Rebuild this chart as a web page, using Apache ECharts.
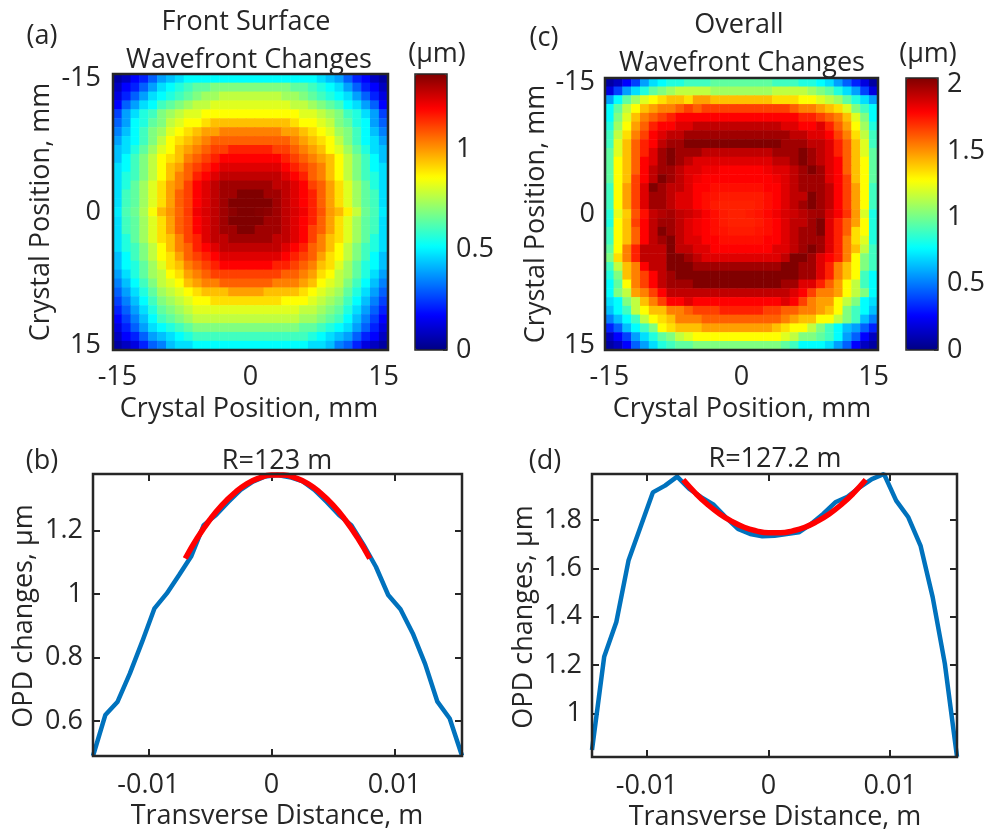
<!DOCTYPE html>
<html>
<head>
<meta charset="utf-8">
<script src="https://cdn.jsdelivr.net/npm/echarts@6/dist/echarts.min.js"></script>
<style>html,body{margin:0;padding:0;background:#fff}#c{width:989px;height:833px}</style>
</head>
<body>
<div id="c"></div>
<script>
// ---------- data ----------
const positionCats = ['-15','-14','-13','-12','-11','-10','-9','-8','-7','-6','-5','-4','-3','-2','-1','0','1','2','3','4','5','6','7','8','9','10','11','12','13','14','15'];
// colorbar ranges (µm)
const cbMaxA = 1.373;
const cbMaxC = 2.05;
// heatmap cells, in 1/16ths of the colorbar range (row 0 = top, -15 mm)
const levelsA = [
[0.5,1,2,2.5,3.5,4.5,5,5.5,6,6,6,6,6,6,6,6,6,6,6,6,6,6,6,5.5,5,4.5,3.5,2.5,2,1,0.5],
[1,2,2.5,3.5,4.5,5.5,6,6.5,7,7.5,7.5,8,8,8,8,8,8,8,8,8,7.5,7.5,7,6.5,6,5.5,4.5,3.5,2.5,2,1],
[1.5,2.5,3.5,4.5,5.5,6,6.5,7,7.5,8,8.5,8.5,9,9,9,9,9,9,9,8.5,8.5,8,7.5,7,6.5,6,5.5,4.5,3.5,2.5,1.5],
[2,3.5,4.5,5.5,6,7,7.5,8,8.5,9,9,9.5,9.5,9.5,9.5,9.5,9.5,9.5,9.5,9.5,9,9,8.5,8,7.5,7,6,5.5,4.5,3.5,2],
[3,4.5,5.5,6.5,7,8,8.5,9,9.5,9.5,10,10,10,10,10,10,10,10,10,10,10,9.5,9.5,9,8.5,8,7,6.5,5.5,4.5,3],
[3.5,4.5,6,6.5,7.5,8,9,9.5,10,10,10.5,11,11,11,11,11,11,11,11,11,10.5,10,10,9.5,9,8,7.5,6.5,6,4.5,3.5],
[4,5,6,7,8,8.5,9.5,10,10.5,11,11.5,11.5,12,12,12,12,12,12,12,11.5,11.5,11,10.5,10,9.5,8.5,8,7,6,5,4],
[4.5,5.5,6,7,8,9,10,10.5,11,11.5,12,12.5,12.5,12.5,12.5,12.5,12.5,12.5,12.5,12.5,12,11.5,11,10.5,10,9,8,7,6,5.5,4.5],
[5,5.5,6.5,7.5,8.5,9.5,10,11,11.5,12,12.5,13,13,13.5,13.5,13.5,13.5,13.5,13,13,12.5,12,11.5,11,10,9.5,8.5,7.5,6.5,5.5,5],
[5,6,7,8,9,10,10.5,11,12,12.5,13,13.5,14,14,14,14,14,14,14,13.5,13,12.5,12,11.5,11,10,9,8,7,6,5],
[5.5,6,7,8,9,10,11,11.5,12.5,13,13.5,14,14.5,14.5,14.5,14.5,14.5,14.5,14.5,14,13.5,13,12.5,12,11,10,9,8,7,6,5.5],
[5.5,6.5,7,8,9,10,11,12,12.5,13.5,14,14.5,15,15,15,15,15,15,15,14.5,14,13.5,12.5,12,11,10,9,8,7,6.5,5.5],
[5.5,6.5,7.5,8.5,9.5,10.5,11.5,12,13,14,14.5,15,15.5,15.5,15.5,15.5,15.5,15.5,15,15,14.5,14,13,12.5,11.5,10.5,9.5,8.5,7.5,6.5,5.5],
[5.5,7,7.5,8.5,9.5,10.5,11.5,12.5,13,14,14.5,15,15.5,15.5,16,16,16,15.5,15.5,15,14.5,14,13.5,12.5,11.5,10.5,9.5,8.5,7.5,7,5.5],
[5.5,7,7.5,8.5,9.5,10.5,11.5,12.5,13,14,14.5,15,15.5,16,16,16,16,16,15.5,15,14.5,14,13.5,12.5,11.5,10.5,9.5,8.5,7.5,7,5.5],
[5.7,7.2,7.7,8.7,9.9,11.1,11.7,12.4,13.1,14.2,14.6,15.0,15.5,15.8,16,16,15.9,15.8,15.5,15.0,14.6,14.2,13.5,12.7,11.6,11.1,10.2,9.1,7.7,7.1,5.7],
[5.5,7,7.5,8.5,9.5,10.5,11.5,12.5,13,14,14.5,15,15.5,16,16,16,16,15.5,15.5,15,14.5,14,13.5,12.5,11.5,10.5,9.5,8.5,7.5,7,5.5],
[5.5,7,7.5,8.5,9.5,10.5,11.5,12.5,13,14,14.5,15,15.5,15.5,16,16,15.5,15.5,15.5,15,14.5,14,13,12.5,11.5,10.5,9.5,8.5,7.5,7,5.5],
[5.5,6.5,7.5,8.5,9.5,10.5,11,12,13,13.5,14.5,15,15,15.5,15.5,15.5,15.5,15.5,15,15,14.5,14,13,12,11,10.5,9.5,8.5,7.5,6.5,5.5],
[5.5,6.5,7,8,9,10,11,12,12.5,13.5,14,14.5,15,15,15,15,15,15,15,14.5,14,13.5,12.5,12,11,10,9,8,7,6.5,5.5],
[5,6,7,8,9,10,10.5,11.5,12.5,13,13.5,14,14.5,14.5,14.5,14.5,14.5,14.5,14.5,14,13.5,13,12.5,11.5,10.5,10,9,8,7,6,5],
[5,6,6.5,7.5,8.5,9.5,10.5,11,12,12.5,13,13.5,14,14,14,14,14,14,13.5,13.5,13,12.5,12,11,10.5,9.5,8.5,7.5,6.5,6,5],
[4.5,5.5,6.5,7.5,8.5,9,10,10.5,11.5,12,12.5,13,13,13,13,13,13,13,13,12.5,12.5,12,11.5,10.5,10,9,8.5,7.5,6.5,5.5,4.5],
[4,5,6,7,8,9,9.5,10,11,11.5,12,12,12.5,12.5,12.5,12.5,12.5,12.5,12,12,12,11.5,11,10,9.5,9,8,7,6,5,4],
[3.5,4.5,5.5,6.5,7.5,8.5,9,9.5,10,10.5,11,11,11,11.5,11.5,11.5,11.5,11,11,11,11,10.5,10,9.5,9,8.5,7.5,6.5,5.5,4.5,3.5],
[3,4,5,6,7,8,8.5,9,9.5,10,10,10.5,10.5,10.5,10.5,10.5,10.5,10.5,10.5,10,10,10,9.5,9,8.5,8,7,6,5,4,3],
[2.5,3.5,4.5,5.5,6.5,7.5,8,8.5,9,9.5,9.5,9.5,9.5,9.5,9.5,9.5,9.5,9.5,9.5,9.5,9.5,9,9,8.5,8,7.5,6.5,5.5,4.5,3.5,2.5],
[2,3,4,5,6,7,7.5,8,8.5,9,9,9,9,9,9,9,9,9,9,9,9,8.5,8.5,8,7.5,7,6,5,4,3,2],
[1.5,2.5,3.5,4.5,5.5,6,6.5,7,7.5,8,8,8,8,8,8,8,8,8,8,8,8,7.5,7.5,7,6.5,6,5.5,4.5,3.5,2.5,1.5],
[1,2,2.5,3.5,4.5,5,5.5,6,6.5,7,7,7,7,7,7,7,7,7,7,7,7,7,6.5,6,5.5,5,4.5,3.5,2.5,2,1],
[0.5,1,1.5,2.5,3.5,4,5,5.5,5.5,6,6,6,6,6,6,6,6,6,6,6,6,6,5.5,5.5,5,4,3.5,2.5,1.5,1,0.5]
];
const levelsC = [
[0.5,1,2,3,4.5,5.5,6,6.5,6.5,7,7,7,7.5,7.5,7.5,7.5,7.5,7.5,7.5,7,7,7,6.5,6.5,6,5.5,4.5,3.5,2.5,1.5,0.5],
[1.5,3,4.5,5.5,6.5,7.5,8,8.5,9,9,9,9,8.5,8.5,8.5,8.5,8.5,8.5,8.5,9,9,9,9,8.5,8,7.5,6.5,5.5,4.5,3,1.5],
[4.5,6,7.5,8.5,9.5,10,10.5,11,11,10.5,11.5,11.5,11,11,11,11,11,11,11,10.5,10.5,10.5,10,10,9.5,9,8.5,7.5,6.5,5.5,4.5],
[6,7.5,9,10,11,11.5,12,12,12.5,13,12.5,13,13,13,13,13,13,13,13,13,13,12.5,12,12,11.5,11,10.5,9.5,8,7,6],
[6,8,9.5,11,12,12.5,13,13.5,14,14,14,14,14,14,14,14,14,14,14,14,14,14,13.5,13.5,13,12.5,12,11,9.5,8,6],
[6.5,8.5,10,11.5,12.5,13.5,14,14,14.5,14.5,15,15,15,15,15,15,15,15,15,15,14.5,14.5,14,14,14.5,13.5,12.5,11.5,10,8.5,6.5],
[7,9,10.5,12,13,14,14.5,15,15,15.5,15.5,15.5,15.5,15.5,15.5,15.5,15.5,15.5,15.5,15.5,15.5,15,15,14.5,14.5,14,13,12,10.5,9,7],
[7,9.5,11,12.5,13.5,14,15,15.5,15.5,16,16,16,16,16,16,16,16,16,16,16,15.5,15.5,15.5,15,15,14.5,13.5,12.5,11,9.5,7],
[7.5,9.5,11,12.5,13.5,14.5,15.5,16,15.5,15.5,15.5,15,15,15,15,15,15,15,15,15.5,15.5,15.5,16,15.5,15,14.5,13.5,12.5,11,9.5,7.5],
[7.5,10,11,12.5,14,14.5,15.5,16,15.5,15,14.5,14.5,14.5,14.5,14.5,14.5,14.5,14.5,14.5,15,15,15.5,16,15.5,15,14.5,14,12.5,11,10,7.5],
[7.5,10,11,12.5,14,15,15.5,15.5,15,14.5,14.5,14.2,14.2,14,14,14,14,14,14.2,14.5,14.5,15,15.5,16,15.5,14.5,14,12.5,11,10,7.5],
[7.5,10,11,13,14,15,16,15.5,15,14.5,14.2,14,14,14,14,14,14,14,14,14.2,14.5,15,15.5,15.5,15.5,14.5,14,13,11,10,7.5],
[7,10,11.5,13,14.5,16,15.5,15,15,14.5,14,14,13.8,13.8,13.8,13.8,13.8,13.8,14,14,14.5,15,15.5,15.5,15.5,15,14,13,11.5,10,7],
[7,10,11.5,13,14.5,15.5,15.5,15,14.5,14.5,14,13.8,13.7,13.6,13.6,13.6,13.6,13.6,13.8,14,14.5,15,15,16,15.5,15,14,13,11.5,10,7],
[7,10,11.5,13,14.5,15.5,15.5,15,14.5,14.5,14,13.8,13.6,13.5,13.5,13.5,13.5,13.6,13.8,14,14.5,15,15.5,16,15.5,15,14,13,11.5,10,7],
[6.6,9.6,10.8,12.7,13.8,14.9,15.2,15.4,15.0,14.8,14.5,14.1,13.8,13.6,13.5,13.5,13.6,13.7,13.9,14.2,14.6,14.8,15.1,15.4,15.5,14.7,14.1,13.2,11.6,9.4,6.4],
[6.5,10,11,13,14,15,15.5,15.5,15,14.5,14.2,14,13.8,13.6,13.5,13.5,13.5,13.6,13.8,14,14.5,15,15,15.5,16,14.5,13.5,12.5,11.5,10,6.5],
[7,10,11,12.5,14,15,16,15.5,15,14.5,14.2,14,13.8,13.7,13.6,13.6,13.6,13.7,13.8,14,14.5,15,15.5,15.5,16,14.5,13.5,12.5,10.5,10,6.5],
[7,10,11,12.5,14,15,15.5,16,15,14.5,14.5,14,14,13.8,13.8,13.8,13.8,13.8,14,14,14.5,15,15.5,15.5,15.5,14.5,13.5,12,10.5,9.5,6.5],
[7.5,10,12,13.5,15,15,15,16,15,15,14.5,14.5,14,14,14,14,14,14,14,14.5,14.5,15,15.5,16,15.5,14.5,13.5,12,11,9,7],
[8,10.5,12,13.5,15,15,15,16,16,15.5,15,14.5,14.5,14.5,14.5,14.5,14.5,14.5,14.5,14.5,15,16,16,15.5,14.5,14,13.5,12,10,8,7],
[7,9,11,12,14,15,15,16,16,16,15.5,15.5,15.5,15.5,15.5,15.5,15.5,15.5,15.5,15.5,16,16,15.5,15.5,14.5,13.5,12,11,10,8,7],
[6.5,8,11,12,13,14,15,15.5,16,16,16,16,16,16,16,16,16,16,16,16,16,16,15.5,15.5,14.5,13.5,12,11,10,7,6],
[6,7.5,10,12,13,14,15,15.5,15.5,15.5,16,16,16,16,16,16,16,16,16,16,15.5,15.5,14.5,14.5,13.5,12.5,11.5,10,9,7,6],
[6,8,9,11.5,12,13,14,15,15,15,15,15,15,15,15,15,15,15,15,15,15,14.5,14,13,12,12,11.5,10,9,8,6],
[5.5,6,8,9,11,12,13,14,14,14.5,14,14,14,14,14,14,14,14,14,14,14.5,14,13,12,11.5,11.5,10,9,8,6,5.5],
[5,6,7,9,10,11,11,12,12,12.5,13,13,13,13.5,13.5,13.5,13.5,13.5,13,13,12.5,12.5,12,12,11.5,11,10,8,7,6,5],
[4,5,6,7,9,10,10.5,11,12,12,12,12.5,12.5,12.5,12.5,12.5,12.5,12.5,12.5,12.5,12,11.5,11,11,10,10,9,8,7,5,4],
[2.5,3.5,5,6,7,8,10,10.5,11,11,11,11.5,11.5,11.5,11.5,11.5,11.5,11.5,11.5,11,10.5,10,10,9,8,7,6,5,4.5,3.5,2.5],
[1,2,3,4.5,5.5,6.5,7.5,8,9,9.5,10,10,10,10,10,10,10,10,10,10,9.5,9,8,8,7.5,7,6,4.5,3.5,2,1],
[0.5,1,2,3.5,4.5,5.5,6.5,7,7.5,7.5,8,8,8,8,8,8,8,8,8,8,7.5,7,6,6,6,5.5,4.5,3.5,2,1,0.5]
];
// transverse profiles (m, µm)
const transverseX = [-0.0145,-0.0135,-0.0125,-0.0115,-0.0105,-0.0095,-0.0085,-0.0075,-0.0065,-0.0055,-0.0045,-0.0035,-0.0025,-0.0015,-0.0005,0.0005,0.0015,0.0025,0.0035,0.0045,0.0055,0.0065,0.0075,0.0085,0.0095,0.0105,0.0115,0.0125,0.0135,0.0145,0.0155];
const opdFront = [0.49,0.619,0.661,0.75,0.85,0.955,1.002,1.06,1.12,1.217,1.249,1.29,1.328,1.354,1.37,1.375,1.368,1.356,1.328,1.29,1.249,1.217,1.155,1.086,0.997,0.952,0.876,0.78,0.661,0.608,0.491];
const opdOverall = [0.849,1.234,1.378,1.632,1.773,1.914,1.942,1.979,1.928,1.893,1.863,1.811,1.763,1.742,1.733,1.735,1.742,1.749,1.783,1.825,1.873,1.896,1.935,1.969,1.99,1.88,1.811,1.694,1.481,1.206,0.821];
const fitX = [-0.007,-0.006,-0.005,-0.004,-0.003,-0.002,-0.001,0,0.001,0.002,0.003,0.004,0.005,0.006,0.007,0.008];
const fitFront = [1.112,1.178,1.234,1.281,1.318,1.347,1.365,1.375,1.375,1.365,1.347,1.318,1.281,1.234,1.178,1.112];
const fitOverall = [1.966,1.911,1.864,1.825,1.794,1.770,1.755,1.747,1.747,1.755,1.770,1.794,1.825,1.864,1.911,1.966];
const cbTicksInterval = 0.5;

// ---------- build ----------
const FONT = '"Open Sans", "Noto Sans", sans-serif';
const FS = 27;
const TXT = '#262626';
const jet = ['#000083','#0000FF','#0080FF','#00FFFF','#80FF80','#FFFF00','#FF8000','#FF0000','#800000'];

function heatData(levels, vmax) {
  const out = [];
  levels.forEach((row, r) => row.forEach((lv, c) => out.push([c, r, lv / 16 * vmax])));
  return out;
}
function pairs(xs, ys) { return xs.map((x, i) => [x, ys[i]]); }

const gridBase = {show: true, borderColor: '#262626', borderWidth: 2.5, backgroundColor: 'transparent', z: 10, containLabel: false};
const lbl = (margin, extra) => Object.assign({color: TXT, fontSize: FS, fontFamily: FONT, margin: margin}, extra || {});
const tickStyle = {color: '#262626', width: 2};

function heatX(grid, pos, show) {
  return {type: 'category', gridIndex: grid, position: pos, data: positionCats, boundaryGap: true,
    axisLine: {show: false, onZero: false}, splitLine: {show: false},
    axisTick: {show: true, inside: true, length: 5, interval: 14, alignWithLabel: true, lineStyle: tickStyle},
    axisLabel: lbl(14, {show: show, interval: 14})};
}
function heatY(grid, pos, show, margin) {
  return {type: 'category', gridIndex: grid, position: pos, data: positionCats, inverse: true, boundaryGap: true,
    axisLine: {show: false, onZero: false}, splitLine: {show: false},
    axisTick: {show: true, inside: true, length: 5, interval: 14, alignWithLabel: true, lineStyle: tickStyle},
    axisLabel: lbl(margin, {show: show, interval: 14})};
}
function valX(grid, pos, show, margin) {
  return {type: 'value', gridIndex: grid, position: pos, min: -0.0145, max: 0.0155, splitNumber: 3,
    axisLine: {show: false, onZero: false}, splitLine: {show: false},
    axisTick: {show: true, inside: true, length: 7, lineStyle: tickStyle},
    axisLabel: lbl(margin, {show: show, showMinLabel: false, showMaxLabel: false})};
}
function valY(grid, pos, show, min, max, margin) {
  return {type: 'value', gridIndex: grid, position: pos, min: min, max: max, splitNumber: 5,
    axisLine: {show: false, onZero: false}, splitLine: {show: false},
    axisTick: {show: true, inside: true, length: 7, lineStyle: tickStyle},
    axisLabel: lbl(margin, {show: show, showMinLabel: false, showMaxLabel: false})};
}
function cbY(grid, vmax) {
  return {type: 'value', gridIndex: grid, position: 'right', min: 0, max: vmax, interval: cbTicksInterval,
    axisLine: {show: false, onZero: false}, splitLine: {show: false},
    axisTick: {show: true, inside: true, length: 4, lineStyle: {color: '#262626', width: 1.5}},
    axisLabel: lbl(9, {showMaxLabel: false, showMinLabel: true})};
}

const txt = (text, x, y, rot) => ({type: 'text', x: x, y: y, rotation: rot || 0, z: 100,
  style: {text: text, fill: TXT, font: FS + 'px ' + FONT, align: 'center', verticalAlign: 'middle'}});

const option = {
  backgroundColor: '#ffffff',
  animation: false,
  grid: [
    Object.assign({left: 113, top: 74, width: 275, height: 276}, gridBase),
    Object.assign({left: 605, top: 78, width: 273, height: 272}, gridBase),
    Object.assign({left: 93, top: 474, width: 369, height: 282}, gridBase),
    Object.assign({left: 592, top: 474, width: 365, height: 283}, gridBase),
    Object.assign({}, gridBase, {left: 415, top: 74, width: 32, height: 276, borderWidth: 1.5}),
    Object.assign({}, gridBase, {left: 906, top: 78, width: 32, height: 272, borderWidth: 1.5})
  ],
  xAxis: [
    heatX(0, 'bottom', true),
    heatX(1, 'bottom', true),
    valX(2, 'bottom', true, 16), valX(2, 'top', false, 8),
    valX(3, 'bottom', true, 16), valX(3, 'top', false, 8),
    {type: 'value', gridIndex: 4, show: false, min: 0, max: 1},
    {type: 'value', gridIndex: 5, show: false, min: 0, max: 1}
  ],
  yAxis: [
    heatY(0, 'left', true, 12),
    heatY(1, 'left', true, 10),
    valY(2, 'left', true, 0.49, 1.378, 10), valY(2, 'right', false, 0.49, 1.378, 8),
    valY(3, 'left', true, 0.82, 1.99, 10), valY(3, 'right', false, 0.82, 1.99, 8),
    cbY(4, cbMaxA),
    cbY(5, cbMaxC)
  ],
  visualMap: [
    {type: 'continuous', seriesIndex: 0, min: 0, max: cbMaxA, inRange: {color: jet}, show: true, calculable: false,
     hoverLink: false, left: 415, top: 74, itemWidth: 32, itemHeight: 276, padding: 0, text: null, orient: 'vertical'},
    {type: 'continuous', seriesIndex: 1, min: 0, max: cbMaxC, inRange: {color: jet}, show: true, calculable: false,
     hoverLink: false, left: 906, top: 78, itemWidth: 32, itemHeight: 272, padding: 0, text: null, orient: 'vertical'}
  ],
  series: [
    {type: 'heatmap', xAxisIndex: 0, yAxisIndex: 0, data: heatData(levelsA, cbMaxA), progressive: 0,
     itemStyle: {borderWidth: 0}, emphasis: {disabled: true}},
    {type: 'heatmap', xAxisIndex: 1, yAxisIndex: 1, data: heatData(levelsC, cbMaxC), progressive: 0,
     itemStyle: {borderWidth: 0}, emphasis: {disabled: true}},
    {type: 'line', xAxisIndex: 2, yAxisIndex: 2, data: pairs(transverseX, opdFront), showSymbol: false,
     lineStyle: {color: '#0072BD', width: 4.5}, z: 3},
    {type: 'line', xAxisIndex: 2, yAxisIndex: 2, data: pairs(fitX, fitFront), showSymbol: false, smooth: true,
     lineStyle: {color: '#FF0000', width: 5.5}, z: 4},
    {type: 'line', xAxisIndex: 4, yAxisIndex: 4, data: pairs(transverseX, opdOverall), showSymbol: false,
     lineStyle: {color: '#0072BD', width: 4.5}, z: 3},
    {type: 'line', xAxisIndex: 4, yAxisIndex: 4, data: pairs(fitX, fitOverall), showSymbol: false, smooth: true,
     lineStyle: {color: '#FF0000', width: 5.5}, z: 4}
  ],
  graphic: [
    txt('(a)', 42, 36), txt('Front Surface', 246, 22), txt('Wavefront Changes', 249, 60), txt('(µm)', 437, 54),
    txt('Crystal Position, mm', 41, 212, Math.PI / 2), txt('Crystal Position, mm', 249, 409),
    txt('(c)', 544, 38), txt('Overall', 739, 25), txt('Wavefront Changes', 742, 63), txt('(µm)', 928, 54),
    txt('Crystal Position, mm', 536, 214, Math.PI / 2), txt('Crystal Position, mm', 742, 409),
    txt('(b)', 42, 461), txt('R=123 m', 277, 461),
    txt('OPD changes, µm', 24, 616, Math.PI / 2), txt('Transverse Distance, m', 277, 816),
    txt('(d)', 545, 461), txt('R=127.2 m', 775, 459),
    txt('OPD changes, µm', 524, 617, Math.PI / 2), txt('Transverse Distance, m', 775, 817)
  ]
};

const chart = echarts.init(document.getElementById('c'), null, {renderer: 'canvas'});
chart.setOption(option);
</script>
</body>
</html>
